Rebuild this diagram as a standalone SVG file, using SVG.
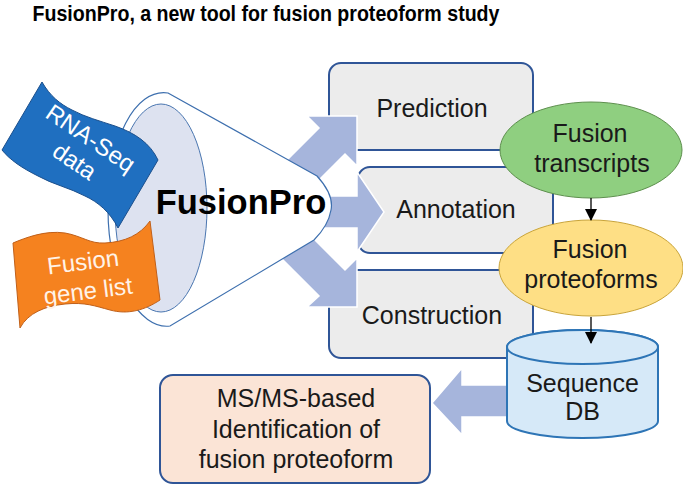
<svg xmlns="http://www.w3.org/2000/svg" width="683" height="485" viewBox="0 0 683 485">
<style>
text{font-family:"Liberation Sans",Arial,sans-serif;fill:#1a1a1a;}
.t25{font-size:25px;text-anchor:middle;}
.box{fill:#ececec;stroke:#2f5597;stroke-width:2;}
.barrow{fill:#a6b5dc;stroke:#ffffff;stroke-width:1.5;}
.wt{fill:#ffffff;font-size:24px;text-anchor:middle;}
</style>
<defs>
<marker id="ah" markerWidth="12" markerHeight="12" refX="11" refY="6" orient="auto" markerUnits="userSpaceOnUse">
<path d="M0,0 L12,6 L0,12 Z" fill="#000"/>
</marker>
</defs>
<rect width="683" height="485" fill="#ffffff"/>
<text x="266" y="21" font-size="21.5" font-weight="bold" text-anchor="middle" textLength="467" lengthAdjust="spacingAndGlyphs" style="fill:#000">FusionPro, a new tool for fusion proteoform study</text>

<g id="prediction">
<rect class="box" x="329" y="63" width="204" height="87" rx="12"/>
<text class="t25" x="432" y="117">Prediction</text>
</g>
<g id="annotation">
<rect class="box" x="358" y="167" width="195" height="86" rx="12"/>
<text class="t25" x="456" y="218">Annotation</text>
</g>
<g id="construction">
<rect class="box" x="329" y="270" width="204" height="88" rx="12"/>
<text class="t25" x="432" y="324">Construction</text>
</g>

<g id="connectors">
<path class="barrow" d="M260,187 L319,128 L307,116 L357,116 L357,166 L345,154 L286,213 Z"/>
<path class="barrow" d="M290,196 L357,196 L357,172 L384,212 L357,252 L357,228 L290,228 Z"/>
<path class="barrow" d="M260,237 L319,296 L307,307 L357,307 L357,258 L345,270 L286,211 Z"/>
<path class="barrow" d="M520,385 L462,385 L462,368 L432,403 L462,435 L462,417 L520,417 Z"/>
</g>

<g id="fusionpro">
<path d="M168,93 L317,176 C328,188 333,200 331,210 C329,222 322,232 314,240 L170,326 C140,330 108,280 108,209 C108,140 135,88 168,93 Z" fill="#ffffff" stroke="#3d6fae" stroke-width="1.2"/>
<ellipse cx="161" cy="208" rx="46" ry="104" fill="#dde2f0" stroke="#4a76b0" stroke-width="1"/>
</g>

<g id="rnaseq">
<path d="M42,82 C50,96 60,104 72,110 C85,117 100,121 115,126 C135,133 150,143 158,160 L118,228 C110,212 98,202 85,196 C70,188 52,184 38,176 C22,168 10,160 2,150 Z" fill="#1f6fc0" stroke="#1b4f8c" stroke-width="1"/>
<text class="wt" transform="translate(86,145) rotate(34)">RNA-Seq</text>
<text class="wt" transform="translate(70,168) rotate(34)">data</text>
</g>

<g id="genelist">
<path d="M13,243 C25,238 45,230 65,233 C82,236 90,244 105,243 C125,242 140,235 150,221 L160,300 C145,310 128,315 110,310 C95,306 85,302 65,304 C45,306 28,313 20,328 Z" fill="#f5821f" stroke="#c0601a" stroke-width="1"/>
<text class="wt" transform="translate(84,270) rotate(-7)" style="fill:#fff3e8">Fusion</text>
<text class="wt" transform="translate(89,299) rotate(-7)" style="fill:#fff3e8">gene list</text>
</g>

<g id="fusionpro-label">
<text x="241" y="214" font-size="34.5" font-weight="bold" text-anchor="middle" style="fill:#000">FusionPro</text>
</g>

<g id="transcripts">
<ellipse cx="591" cy="150" rx="91" ry="48" fill="#8fcf80" stroke="#5d8f4d" stroke-width="1"/>
<text class="t25" x="590" y="142">Fusion</text>
<text class="t25" x="592" y="172">transcripts</text>
</g>

<g id="proteoforms">
<ellipse cx="591" cy="268" rx="92" ry="48" fill="#fedf85" stroke="#c9a43a" stroke-width="1"/>
<text class="t25" x="590" y="258">Fusion</text>
<text class="t25" x="591" y="288">proteoforms</text>
</g>

<g id="seqdb">
<path d="M507,347 A75.5,17 0 0,1 658,347 L658,421 A75.5,17 0 0,1 507,421 Z" fill="#d6e9f8" stroke="#2e75b6" stroke-width="2"/>
<ellipse cx="582.5" cy="347" rx="75.5" ry="17" fill="#d6e9f8" stroke="#2e75b6" stroke-width="2"/>
<text class="t25" x="582.5" y="392">Sequence</text>
<text class="t25" x="582.5" y="420">DB</text>
</g>

<g id="msms">
<rect x="160" y="375" width="270" height="108" rx="13" fill="#fbe4d6" stroke="#2f5597" stroke-width="2"/>
<text class="t25" x="296" y="407">MS/MS-based</text>
<text class="t25" x="296" y="438">Identification of</text>
<text class="t25" x="296" y="468">fusion proteoform</text>
</g>

<g id="connector-lines">
<line x1="591" y1="198" x2="591" y2="220" stroke="#000" stroke-width="1.3" marker-end="url(#ah)"/>
<line x1="591" y1="317" x2="591" y2="343" stroke="#000" stroke-width="1.3" marker-end="url(#ah)"/>
</g>
</svg>
